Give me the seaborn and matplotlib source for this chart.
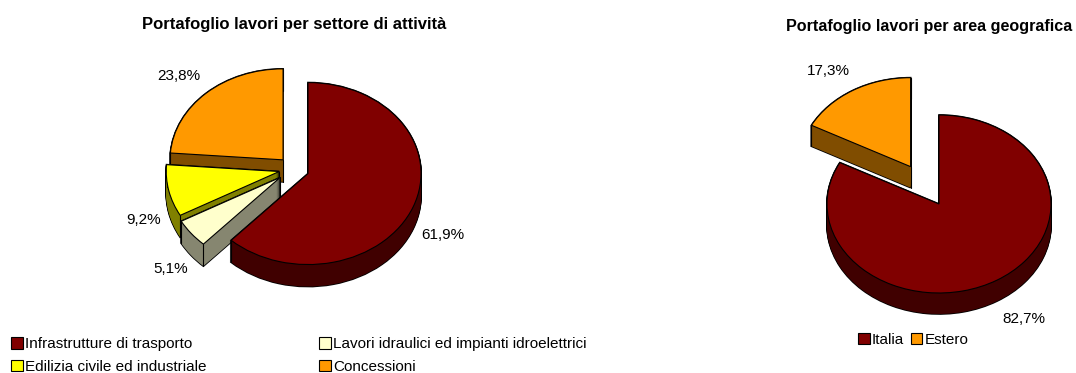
import matplotlib
matplotlib.use("Agg")
import matplotlib.pyplot as plt
from matplotlib.patches import Patch
import numpy as np
import seaborn as sns

sns.set_theme(style="white")
plt.rcParams["font.family"] = ["Liberation Sans", "DejaVu Sans"]

# Order backlog by business sector
sector_labels = ["Infrastrutture di trasporto", "Lavori idraulici ed impianti idroelettrici",
                 "Edilizia civile ed industriale", "Concessioni"]
sector_values = [61.9, 5.1, 9.2, 23.8]
sector_explode = [0.137, 0.15, 0.13, 0.137]
sector_colors = ["#800000", "#FFFFCC", "#FFFF00", "#FF9900"]
sector_walls = ["#400000", "#868670", "#808000", "#804D00"]
sector_layering = [3, 2, 1, 0]

# Order backlog by geographic area
area_labels = ["Italia", "Estero"]
area_values = [82.7, 17.3]
area_explode = [0.0, 0.49]
area_colors = ["#800000", "#FF9900"]
area_walls = ["#400000", "#804D00"]
area_layering = [1, 0]

W, H = 1076, 373
fig = plt.figure(figsize=(W / 100, H / 100), dpi=100, facecolor="white")


def extruded_pie(cx, cy, rx, ry, depth, values, explode, colors, walls, layering):
    """Pie squashed to an ellipse, with a side wall built from stacked copies."""
    hw, hh = 170, 150
    ax = fig.add_axes([(cx - hw) / W, 1 - (cy + hh) / H, 2 * hw / W, 2 * hh / H])
    common = dict(explode=explode, startangle=90, counterclock=False)
    d = depth / ry
    for k in np.linspace(d, 0, depth + 1):
        outline, _ = ax.pie(values, colors=colors, center=(0, -k),
                            wedgeprops=dict(edgecolor="black", linewidth=1.2), **common)
        wall, _ = ax.pie(values, colors=walls, center=(0, -k),
                         wedgeprops=dict(linewidth=0), **common)
        for o, w, z in zip(outline, wall, layering):
            o.set_zorder(10 * z + 1)
            w.set_zorder(10 * z + 2)
    top, _ = ax.pie(values, colors=colors,
                    wedgeprops=dict(edgecolor="black", linewidth=0.8), **common)
    for w, z in zip(top, layering):
        w.set_zorder(10 * z + 4)
        # vertical edges of the wall at the apex and at both rim corners
        x0, y0 = w.center
        xs = [x0] + [x0 + w.r * np.cos(np.radians(t)) for t in (w.theta1, w.theta2)]
        ys = [y0] + [y0 + w.r * np.sin(np.radians(t)) for t in (w.theta1, w.theta2)]
        for x, y in zip(xs, ys):
            ax.plot([x, x], [y, y - d], color="black", lw=0.8, zorder=10 * z + 3)
    ax.set_aspect("auto")
    ax.set_xlim(-hw / rx, hw / rx)
    ax.set_ylim(-hh / ry, hh / ry)
    ax.axis("off")
    ax.patch.set_alpha(0)


def pct(v):
    return f"{v:.1f}%".replace(".", ",")


def label(x, y, s, **kw):
    fig.text(x / W, 1 - y / H, s, ha="center", va="center", color="black", **kw)


extruded_pie(293.6, 169, 113, 91, 22, sector_values, sector_explode, sector_colors, sector_walls, sector_layering)
extruded_pie(939, 204, 112, 89, 21, area_values, area_explode, area_colors, area_walls, area_layering)

label(294, 24, "Portafoglio lavori per settore di attività", fontsize=11.95, fontweight="bold")
label(929, 27, "Portafoglio lavori per area geografica", fontsize=11.6, fontweight="bold")

for (x, y), v in zip([(443, 235), (171, 269), (144, 220), (179, 76)], sector_values):
    label(x, y, pct(v), fontsize=11)
for (x, y), v in zip([(1024, 319), (828, 71)], area_values):
    label(x, y, pct(v), fontsize=11)

# Legends
sector_handles = [Patch(facecolor=c, edgecolor="black", linewidth=0.8) for c in sector_colors]
order = [0, 2, 1, 3]
fig.legend([sector_handles[i] for i in order], [sector_labels[i] for i in order],
           ncol=2, frameon=False, loc="lower left", bbox_to_anchor=(8 / W, 1 - 377 / H),
           fontsize=11, labelcolor="black", handlelength=0.75, handleheight=0.75, handletextpad=0.15,
           columnspacing=7.4, labelspacing=0.56, borderpad=0.2, borderaxespad=0)
area_handles = [Patch(facecolor=c, edgecolor="black", linewidth=0.8) for c in area_colors]
fig.legend(area_handles, area_labels, ncol=2, frameon=False, loc="center left",
           bbox_to_anchor=(855 / W, 1 - 340 / H), fontsize=11, labelcolor="black", handlelength=0.75,
           handleheight=0.75, handletextpad=0.15, columnspacing=0.45, borderpad=0.2, borderaxespad=0)

fig.savefig("out.png", dpi=100)
